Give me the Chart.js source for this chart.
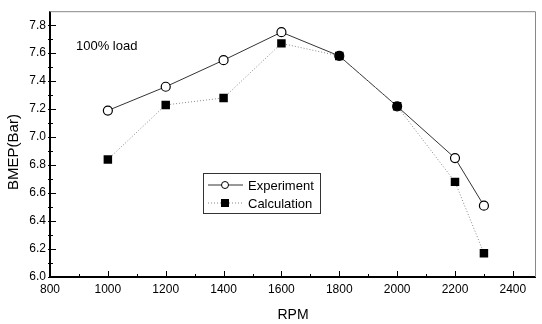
<!DOCTYPE html>
<html>
<head>
<meta charset="utf-8">
<script src="https://cdn.jsdelivr.net/npm/chart.js@4.4.0/dist/chart.umd.min.js"></script>
<style>
  html, body { margin: 0; padding: 0; background: #fff; }
  #wrap { width: 542px; height: 324px; }
</style>
</head>
<body>
<div id="wrap"><canvas id="graficoBmep" width="542" height="324"></canvas></div>
<script>
const rpm = [1000, 1200, 1400, 1600, 1800, 2000, 2200, 2300];
const experimento = [7.19, 7.36, 7.55, 7.75, 7.58, 7.22, 6.85, 6.51];
const calculo = [6.84, 7.23, 7.28, 7.67, 7.58, 7.22, 6.68, 6.17];
const ticksX = [800, 1000, 1200, 1400, 1600, 1800, 2000, 2200, 2400];
const ticksY = [6.0, 6.2, 6.4, 6.6, 6.8, 7.0, 7.2, 7.4, 7.6, 7.8];

const FUENTE = '"Liberation Sans", Arial, sans-serif';

const puntos = (ys) => rpm.map((x, i) => ({ x: x, y: ys[i] }));

// marco, ticks hacia dentro, título del eje Y, leyenda y texto
const marco = {
    id: 'marco',
    afterDraw(chart) {
        const { ctx, chartArea: a, scales } = chart;
        const sx = scales.x, sy = scales.y;
        ctx.save();
        ctx.strokeStyle = '#000';
        ctx.lineWidth = 2;
        ctx.beginPath();
        ctx.moveTo(a.left, a.top);
        ctx.lineTo(a.left, a.bottom);
        ctx.lineTo(a.right, a.bottom);
        ctx.stroke();
        ctx.strokeStyle = '#888';
        ctx.lineWidth = 1;
        ctx.beginPath();
        ctx.moveTo(a.left, a.top + 0.5);
        ctx.lineTo(a.right - 0.5, a.top + 0.5);
        ctx.lineTo(a.right - 0.5, a.bottom);
        ctx.stroke();

        ctx.strokeStyle = '#000';
        ctx.lineWidth = 1;
        ctx.beginPath();
        for (let v = 800; v <= 2400; v += 100) {
            const px = Math.round(sx.getPixelForValue(v)) + 0.5;
            const len = v % 200 === 0 ? 6 : 3;
            ctx.moveTo(px, a.bottom);
            ctx.lineTo(px, a.bottom - len);
        }
        for (let k = 0; k <= 18; k++) {
            const v = 6.0 + k * 0.1;
            const py = Math.round(sy.getPixelForValue(v)) + 0.5;
            const len = k % 2 === 0 ? 6 : 3;
            ctx.moveTo(a.left - 2, py);
            ctx.lineTo(a.left + len, py);
        }
        ctx.stroke();

        ctx.fillStyle = '#000';
        ctx.textBaseline = 'middle';

        ctx.save();
        ctx.translate(14, 152);
        ctx.rotate(-Math.PI / 2);
        ctx.textAlign = 'center';
        ctx.font = '15px ' + FUENTE;
        ctx.fillText('BMEP(Bar)', 0, 0);
        ctx.restore();

        ctx.font = '13px ' + FUENTE;
        ctx.fillText('100% load', 76, 46);

        // leyenda
        const lx = 203, ly = 173, lw = 117, lh = 40;
        ctx.strokeStyle = '#333';
        ctx.lineWidth = 1;
        ctx.strokeRect(lx + 0.5, ly + 0.5, lw, lh);
        const filas = [
            { nombre: 'Experiment', ds: chart.data.datasets[0], y: ly + 12 },
            { nombre: 'Calculation', ds: chart.data.datasets[1], y: ly + 30 }
        ];
        filas.forEach(f => {
            ctx.strokeStyle = f.ds.borderColor;
            ctx.setLineDash(f.ds.borderDash || []);
            ctx.lineWidth = 1;
            ctx.beginPath();
            ctx.moveTo(lx + 5, f.y);
            ctx.lineTo(lx + 40, f.y);
            ctx.stroke();
            ctx.setLineDash([]);
            const cx = lx + 22;
            if (f.ds.pointStyle === 'rect') {
                ctx.fillStyle = '#000';
                ctx.fillRect(cx - 4, f.y - 4, 8, 8);
            } else {
                ctx.fillStyle = '#fff';
                ctx.strokeStyle = '#000';
                ctx.beginPath();
                ctx.arc(cx, f.y, 3.5, 0, Math.PI * 2);
                ctx.fill();
                ctx.stroke();
            }
            ctx.fillStyle = '#000';
            ctx.font = '13px ' + FUENTE;
            ctx.fillText(f.nombre, lx + 45, f.y + 1);
        });
        ctx.restore();
    }
};

new Chart(document.getElementById('graficoBmep').getContext('2d'), {
    type: 'line',
    data: {
        datasets: [{
            label: 'Experiment',
            data: puntos(experimento),
            order: 2,
            borderColor: '#333',
            borderWidth: 1,
            pointStyle: 'circle',
            pointRadius: 4.5,
            pointBackgroundColor: '#fff',
            pointBorderColor: '#000',
            pointBorderWidth: 1.2,
            tension: 0
        }, {
            label: 'Calculation',
            data: puntos(calculo),
            order: 1,  // cuadrados encima de los círculos
            borderColor: '#888',
            borderWidth: 1,
            borderDash: [1, 2],
            pointStyle: 'rect',
            pointRadius: 6,
            pointBackgroundColor: '#000',
            pointBorderColor: '#000',
            pointBorderWidth: 0,
            tension: 0
        }]
    },
    options: {
        responsive: false,
        animation: false,
        layout: { padding: { top: 7, right: 2, left: 0, bottom: 0 } },
        plugins: { legend: { display: false }, tooltip: { enabled: false } },
        scales: {
            x: {
                type: 'linear',
                min: 800,
                max: 2480,
                afterBuildTicks: (s) => { s.ticks = ticksX.map(v => ({ value: v })); },
                afterFit: (s) => { s.height = 47; },
                grid: { display: false, drawTicks: false },
                border: { display: false },
                ticks: {
                    color: '#000',
                    font: { family: FUENTE, size: 12 },
                    padding: 5,
                    maxRotation: 0,
                    callback: (v) => String(v)
                },
                title: {
                    display: true,
                    text: 'RPM',
                    color: '#000',
                    font: { family: FUENTE, size: 14 },
                    padding: { top: 6, bottom: 0 }
                }
            },
            y: {
                type: 'linear',
                min: 6.0,
                max: 7.9,
                afterBuildTicks: (s) => { s.ticks = ticksY.map(v => ({ value: v })); },
                afterFit: (s) => { s.width = 50; },
                grid: { display: false, drawTicks: false },
                border: { display: false },
                ticks: {
                    color: '#000',
                    font: { family: FUENTE, size: 12 },
                    padding: 4,
                    callback: (v) => v.toFixed(1)
                }
            }
        }
    },
    plugins: [marco]
});
</script>
</body>
</html>
